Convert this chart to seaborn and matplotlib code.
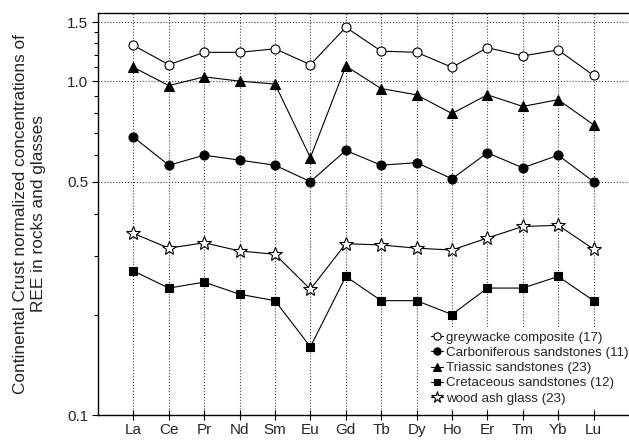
import numpy as np
import pandas as pd
import seaborn as sns
import matplotlib.pyplot as plt
from matplotlib.ticker import FixedLocator, NullFormatter

elements = ['La', 'Ce', 'Pr', 'Nd', 'Sm', 'Eu', 'Gd', 'Tb', 'Dy', 'Ho', 'Er', 'Tm', 'Yb', 'Lu']

greywacke = [1.28, 1.12, 1.22, 1.22, 1.25, 1.12, 1.45, 1.23, 1.22, 1.10, 1.26, 1.19, 1.24, 1.04]
carboniferous = [0.68, 0.56, 0.60, 0.58, 0.56, 0.50, 0.62, 0.56, 0.57, 0.51, 0.61, 0.55, 0.60, 0.50]
triassic = [1.10, 0.97, 1.03, 1.00, 0.98, 0.59, 1.11, 0.95, 0.91, 0.80, 0.91, 0.84, 0.88, 0.74]
cretaceous = [0.27, 0.24, 0.25, 0.23, 0.22, 0.16, 0.26, 0.22, 0.22, 0.20, 0.24, 0.24, 0.26, 0.22]
wood_ash = [0.35, 0.316, 0.328, 0.31, 0.303, 0.238, 0.326, 0.323, 0.316, 0.312, 0.339, 0.367, 0.37, 0.314]

labels = ['greywacke composite (17)', 'Carboniferous sandstones (11)', 'Triassic sandstones (23)',
          'Cretaceous sandstones (12)', 'wood ash glass (23)']

y_major = [0.1, 0.5, 1.0, 1.5]
y_major_labels = ['0.1', '0.5', '1.0', '1.5']

sns.set_style('ticks')
plt.rcParams['font.family'] = ['Liberation Sans', 'DejaVu Sans']

fig = plt.figure(figsize=(6.29, 4.4), dpi=100)
ax = fig.add_axes([98 / 629, 25 / 440, 531 / 629, 402 / 440])

x = np.arange(len(elements))
series = [
    (greywacke, 'o', 'white', 6.5),
    (carboniferous, 'o', 'black', 6.5),
    (triassic, '^', 'black', 7),
    (cretaceous, 's', 'black', 6),
    (wood_ash, '*', 'white', 10.5),
]
for (vals, mk, fc, ms), lab in zip(series, labels):
    df = pd.DataFrame({'x': x, 'y': vals})
    sns.lineplot(data=df, x='x', y='y', ax=ax, color='black', linewidth=0.8,
                 marker=mk, markersize=ms, markerfacecolor=fc,
                 markeredgecolor='black', markeredgewidth=0.8, label=lab)

ax.set_yscale('log')
ax.set_ylim(0.1, 1.6)
ax.set_xlim(-1, 14)
ax.yaxis.set_major_locator(FixedLocator(y_major))
ax.set_yticklabels(y_major_labels)
ax.yaxis.set_minor_locator(FixedLocator([0.2, 0.3, 0.4, 0.6, 0.7, 0.8, 0.9, 1.1, 1.2, 1.3, 1.4]))
ax.yaxis.set_minor_formatter(NullFormatter())
ax.set_xticks(x)
ax.set_xticklabels(elements)

ax.grid(True, axis='x', linestyle=':', color='#444444', linewidth=0.8)
ax.grid(True, axis='y', which='major', linestyle=':', color='#444444', linewidth=0.8)

for s in ['left', 'top', 'bottom']:
    ax.spines[s].set_visible(True)
    ax.spines[s].set_linewidth(1.0)
    ax.spines[s].set_color('black')
ax.spines['right'].set_visible(False)

ax.tick_params(axis='both', which='major', labelsize=11, length=4, width=0.8, color='black', pad=3)
ax.tick_params(axis='x', which='major', direction='inout', length=7, pad=2)
ax.tick_params(axis='y', which='minor', length=3, width=0.8, color='black')

ax.set_xlabel('')
ax.set_ylabel('Continental Crust normalized concentrations of\nREE in rocks and glasses',
              fontsize=12.4, linespacing=1.3, labelpad=15)

leg = ax.legend(loc='upper left', bbox_to_anchor=(0.619, 0.218), frameon=True, fontsize=9.6,
                handlelength=0.9, handletextpad=0.25, labelspacing=0.22, borderpad=0.3,
                borderaxespad=0, markerscale=0.8, fancybox=False)
leg.get_frame().set_facecolor('white')
leg.get_frame().set_edgecolor('none')
leg.get_frame().set_alpha(1)

fig.savefig('out.png', dpi=100)
